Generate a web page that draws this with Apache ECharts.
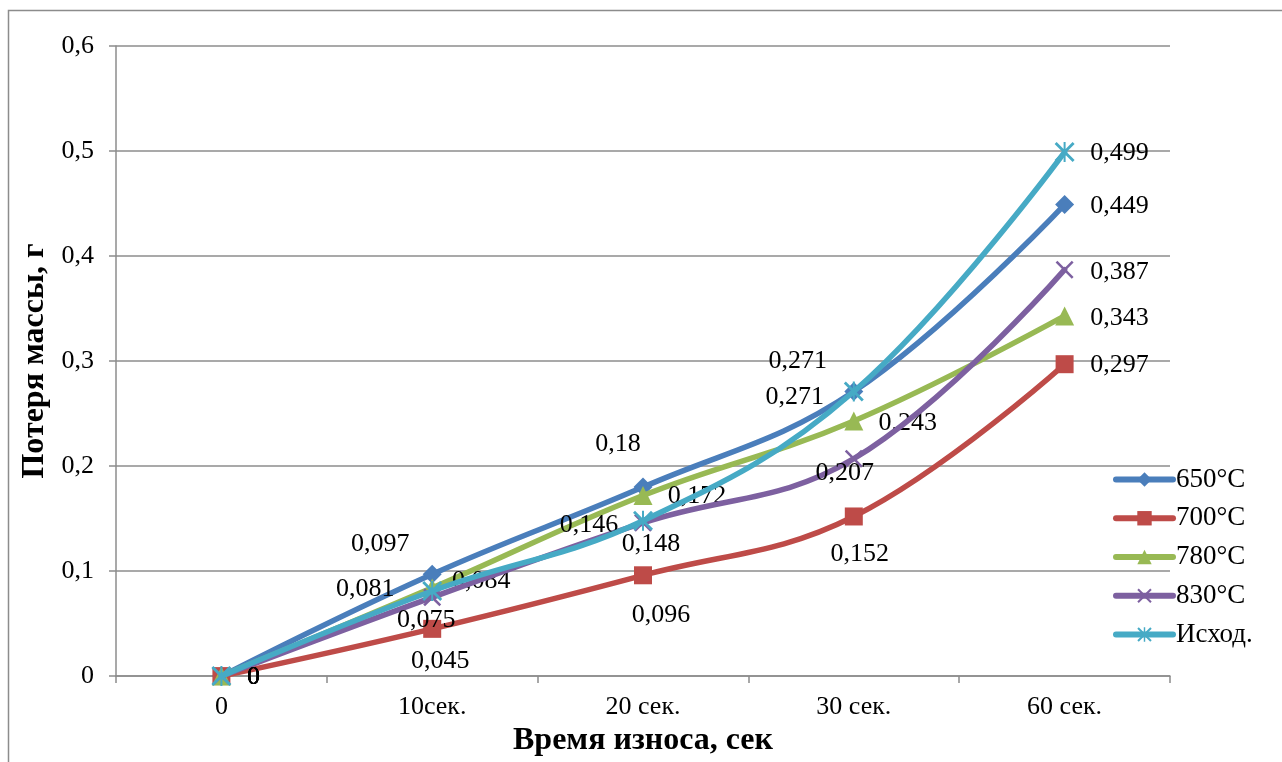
<!DOCTYPE html>
<html>
<head>
<meta charset="utf-8">
<script src="https://cdn.jsdelivr.net/npm/echarts@6/dist/echarts.min.js"></script>
<style>
html,body{margin:0;padding:0;background:#fff;}
#c{width:1282px;height:762px;}
</style>
</head>
<body>
<div id="c"></div>
<script>
// ---- data ----
const categories = ['0', '10сек.', '20 сек.', '30 сек.', '60 сек.'];
const seriesNames = ['650°C', '700°C', '780°C', '830°C', 'Исход.'];
const s650 = [0, 0.097, 0.18, 0.271, 0.449];
const s700 = [0, 0.045, 0.096, 0.152, 0.297];
const s780 = [0, 0.084, 0.172, 0.243, 0.343];
const s830 = [0, 0.075, 0.146, 0.207, 0.387];
const sIsh = [0, 0.081, 0.148, 0.271, 0.499];
const yTicks = [0, 0.1, 0.2, 0.3, 0.4, 0.5, 0.6];

// ---- label offsets (style only) ----
const off650 = [[32,1],[-52,-30],[-25,-43],[-56,-30],[55,2]];
const off700 = [[32,1],[8,32],[18,40],[6,38],[55,1]];
const off780 = [[32,1],[49,-7],[54,1],[54,2],[55,2]];
const off830 = [[32,1],[-6,23],[-54,2],[-9,14],[55,2]];
const offIsh = [[32,1],[-67,-2],[8,23],[-59,6],[55,1]];

const colors = ['#4A7EBB', '#BE4B48', '#98B954', '#7D60A0', '#46AAC5'];
const xSym = 'path://M0,1L1,0L5,4L9,0L10,1L6,5L10,9L9,10L5,6L1,10L0,9L4,5Z';
const starSym = 'path://M0,1L1,0L10,9L9,10Z M9,0L10,1L1,10L0,9Z M4.5,0L5.5,0L5.5,10L4.5,10Z';
const symbols = ['diamond', 'rect', 'triangle', xSym, starSym];
const symSizes = [19, 18, 19, 18, 20];

const fmt = v => String(v).replace('.', ',');
const font = 'Liberation Serif, Times New Roman, serif';

function mk(i, vals, offs) {
  return {
    name: seriesNames[i],
    type: 'line',
    smooth: 0.4,
    data: vals.map((v, k) => ({
      value: v,
      label: { offset: offs[k] }
    })),
    symbol: symbols[i],
    symbolSize: symSizes[i],
    lineStyle: { width: 5.5, color: colors[i], cap: 'round', join: 'round' },
    itemStyle: { color: colors[i] },
    label: {
      show: true,
      position: 'inside',
      formatter: p => fmt(p.value),
      color: '#000',
      fontFamily: font,
      fontSize: 26
    },
    z: 2 + i
  };
}

const chart = echarts.init(document.getElementById('c'));
chart.setOption({
  animation: false,
  color: colors,
  graphic: [{
    type: 'rect',
    shape: { x: 8.5, y: 10.5, width: 1400, height: 900 },
    style: { fill: 'none', stroke: '#8c8c8c', lineWidth: 1.5 },
    silent: true, z: -10
  }],
  grid: { left: 116, right: 112, top: 46, bottom: 79, containLabel: false },
  legend: {
    orient: 'vertical',
    left: 1108,
    top: 461,
    itemWidth: 57,
    itemHeight: 18,
    itemGap: 11.75,
    lineStyle: { width: 6, cap: 'round' },
    textStyle: { fontFamily: font, fontSize: 27, color: '#000', lineHeight: 27, padding: [0,0,0,-2] },
    data: seriesNames
  },
  xAxis: {
    type: 'category',
    data: categories,
    boundaryGap: true,
    name: 'Время износа, сек',
    nameLocation: 'middle',
    nameGap: 40,
    nameTextStyle: { fontFamily: font, fontSize: 32, fontWeight: 'bold', color: '#000' },
    axisLine: { lineStyle: { color: '#8c8c8c', width: 1.5 } },
    axisTick: { show: true, length: 7, lineStyle: { color: '#8c8c8c', width: 1.5 } },
    axisLabel: { fontFamily: font, fontSize: 26, color: '#000', margin: 18 }
  },
  yAxis: {
    type: 'value',
    min: yTicks[0],
    max: yTicks[yTicks.length - 1],
    interval: 0.1,
    name: 'Потеря массы, г',
    nameLocation: 'middle',
    nameGap: 65,
    nameRotate: 90,
    nameTextStyle: { fontFamily: font, fontSize: 32, fontWeight: 'bold', color: '#000' },
    axisLine: { show: true, lineStyle: { color: '#8c8c8c', width: 1.5 } },
    axisTick: { show: true, length: 7, lineStyle: { color: '#8c8c8c', width: 1.5 } },
    splitLine: { lineStyle: { color: '#8c8c8c', width: 1.5 } },
    axisLabel: {
      fontFamily: font, fontSize: 26, color: '#000', margin: 22,
      formatter: v => v === 0 ? '0' : v.toFixed(1).replace('.', ',')
    }
  },
  series: [
    mk(0, s650, off650),
    mk(1, s700, off700),
    mk(2, s780, off780),
    mk(3, s830, off830),
    mk(4, sIsh, offIsh)
  ]
});
</script>
</body>
</html>
